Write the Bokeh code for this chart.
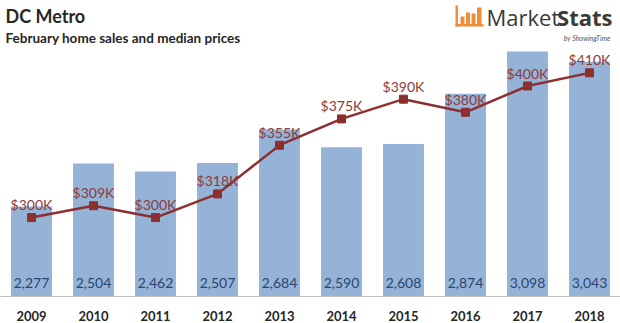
from bokeh.plotting import figure
from bokeh.models import Range1d, Label, BoxAnnotation, ColumnDataSource
from bokeh.core.properties import value
from bokeh.embed import file_html
from bokeh.resources import INLINE

years = ["2009", "2010", "2011", "2012", "2013", "2014", "2015", "2016", "2017", "2018"]
sales = [2277, 2504, 2462, 2507, 2684, 2590, 2608, 2874, 3098, 3043]
prices_k = [300, 309, 300, 318, 355, 375, 390, 380, 400, 410]

sales_labels = [f"{v:,}" for v in sales]
price_labels = [f"${v}K" for v in prices_k]

src = ColumnDataSource(dict(year=years, sales=sales, price=prices_k,
                            slab=sales_labels, plab=price_labels))

FONT = "Lato"

p = figure(x_range=years, y_range=Range1d(1800, 3368), width=620, height=323,
           output_backend="svg", toolbar_location=None,
           min_border_left=0, min_border_right=0, min_border_top=0, min_border_bottom=27)
p.extra_y_ranges = {"price": Range1d(240, 465)}
p.outline_line_color = None
p.grid.visible = False
p.yaxis.visible = False
p.x_range.range_padding = 0

xa = p.xaxis[0]
xa.axis_line_color = "#BFBFBF"
xa.axis_line_width = 1
xa.major_tick_line_color = None
xa.minor_tick_line_color = None
xa.major_label_text_font = FONT
xa.major_label_text_font_style = "bold"
xa.major_label_text_font_size = "13px"
xa.major_label_text_color = "#262626"
xa.major_label_standoff = 8

p.vbar(x="year", top="sales", bottom=1800, width=0.66, source=src,
       fill_color="#95B3D7", line_color=None)

p.text(x="year", y=1800, text="slab", source=src, y_offset=-14,
       text_align="center", text_baseline="middle",
       text_font=value(FONT), text_font_size="14px", text_color="#2B4570")

p.line(x="year", y="price", source=src, y_range_name="price",
       line_color="#8E2F2F", line_width=2.5)
p.scatter(x="year", y="price", source=src, y_range_name="price",
          marker="square", size=8, fill_color="#8E2F2F", line_color="#8E2F2F")
p.text(x="year", y="price", text="plab", source=src, y_range_name="price",
       y_offset=-13, text_align="center", text_baseline="middle",
       text_font=value(FONT), text_font_size="14px", text_color="#8E3A3A")

# Titles (screen units relative to plot frame, frame height 296)
H = 296
p.add_layout(Label(x=5, y=H - 15, x_units="screen", y_units="screen",
                   text="DC Metro", text_font=FONT, text_font_style="bold",
                   text_font_size="18px", text_color="#262626",
                   text_baseline="middle", text_align="left"))
p.add_layout(Label(x=5, y=H - 37, x_units="screen", y_units="screen",
                   text="February home sales and median prices", text_font=FONT,
                   text_font_style="bold", text_font_size="13.5px", text_color="#262626",
                   text_baseline="middle", text_align="left"))

# Logo
orange = "#EE8E3A"
def box(l, r, t, b):
    p.add_layout(BoxAnnotation(left=l, right=r, top=H - t, bottom=H - b,
                               left_units="screen", right_units="screen",
                               top_units="screen", bottom_units="screen",
                               fill_color=orange, fill_alpha=1, line_color=None))
box(455, 457.5, 5, 26)
box(455, 483, 23.5, 26)
box(460, 464, 16, 23.5)
box(465.5, 469.5, 12, 23.5)
box(471, 475, 13, 23.5)
box(476.5, 481, 7, 23.5)
p.add_layout(Label(x=486, y=H - 16, x_units="screen", y_units="screen",
                   text="Market", text_font="Open Sans", text_font_size="22px",
                   text_color="#3A3A3A", text_baseline="middle", text_align="left"))
p.add_layout(Label(x=612, y=H - 16, x_units="screen", y_units="screen",
                   text="Stats", text_font="Open Sans", text_font_size="22px", text_font_style="bold",
                   text_color="#3A3A3A", text_baseline="middle", text_align="right"))
p.add_layout(Label(x=610, y=H - 37, x_units="screen", y_units="screen",
                   text="by ShowingTime", text_font=FONT, text_font_size="7px",
                   text_font_style="italic", text_color="#555555",
                   text_baseline="middle", text_align="right"))

open("out.html", "w").write(file_html(p, INLINE))
